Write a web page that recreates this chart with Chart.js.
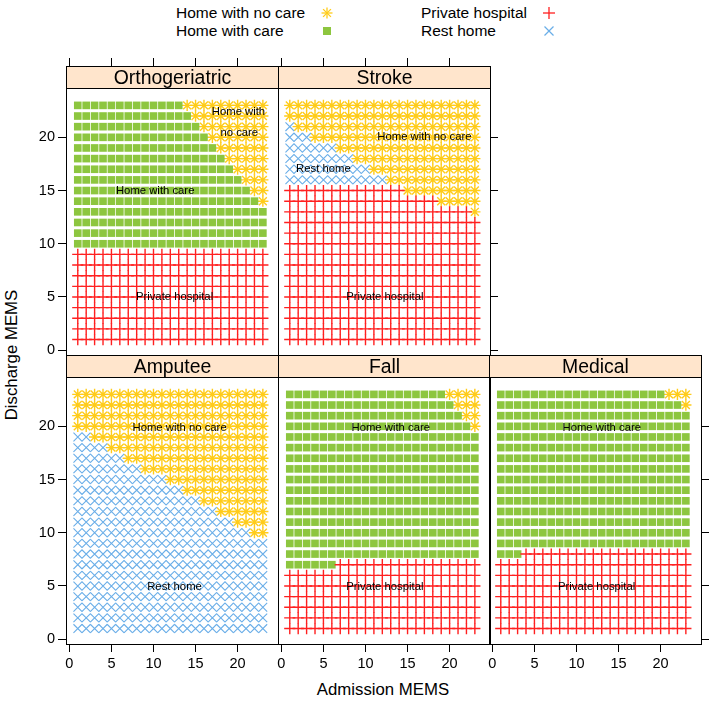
<!DOCTYPE html>
<html>
<head>
<meta charset="utf-8">
<title>Predicted discharge destination by MEMS</title>
<script src="https://cdn.jsdelivr.net/npm/chart.js@4.4.1/dist/chart.umd.min.js"></script>
<style>
  body { margin: 0; background: #fff; font-family: "Liberation Sans", Arial, sans-serif; }
  #page { position: relative; width: 709px; height: 709px; overflow: hidden; }
  #page canvas { position: absolute; }
  .lbl { position: absolute; white-space: nowrap; color: #000; line-height: 1; }
</style>
</head>
<body>
<div id="page">
  <div class="lbl" style="left:176px;top:5px;font-size:15.5px">Home with no care</div>
  <div class="lbl" style="left:176px;top:23px;font-size:15.5px">Home with care</div>
  <div class="lbl" style="left:421px;top:5px;font-size:15.5px">Private hospital</div>
  <div class="lbl" style="left:421px;top:23px;font-size:15.5px">Rest home</div>
  <svg style="position:absolute;left:0;top:0" width="709" height="45">
    <g stroke="#ffcc1a" stroke-width="1.3">
      <line x1="321.5" y1="13" x2="332.5" y2="13"/><line x1="327" y1="7.5" x2="327" y2="18.5"/>
      <line x1="323.1" y1="9.1" x2="330.9" y2="16.9"/><line x1="323.1" y1="16.9" x2="330.9" y2="9.1"/>
    </g>
    <rect x="323" y="27" width="8" height="8" fill="#8dc63f"/>
    <g stroke="#ff2020" stroke-width="1.3">
      <line x1="543" y1="13" x2="555" y2="13"/><line x1="549" y1="7" x2="549" y2="19"/>
    </g>
    <g stroke="#6aaee8" stroke-width="1.2">
      <line x1="544.5" y1="26.5" x2="553.5" y2="35.5"/><line x1="544.5" y1="35.5" x2="553.5" y2="26.5"/>
    </g>
  </svg>
  <div class="lbl" style="left:12px;top:355px;font-size:16.8px;transform:translate(-50%,-50%) rotate(-90deg)">Discharge MEMS</div>
  <div class="lbl" style="left:383px;top:690px;font-size:16.8px;transform:translate(-50%,-50%)">Admission MEMS</div>
</div>
<script>
// --- DATA ---
const destinations = ['Home with no care', 'Home with care', 'Private hospital', 'Rest home'];
const destCodes = ['N', 'C', 'P', 'R'];
const admissionMEMS = [1, 2, 3, 4, 5, 6, 7, 8, 9, 10, 11, 12, 13, 14, 15, 16, 17, 18, 19, 20, 21, 22, 23];
// rows of the grids below, top to bottom
const dischargeMEMS = [23, 22, 21, 20, 19, 18, 17, 16, 15, 14, 13, 12, 11, 10, 9, 8, 7, 6, 5, 4, 3, 2, 1];
const xTicks = [0, 5, 10, 15, 20];
const yTicks = [0, 5, 10, 15, 20];

// predicted destination along each row, as runs: code + number of admission MEMS cells
const orthogeriatric = [
    'C13 N10', 'C14 N9', 'C15 N8', 'C16 N7', 'C17 N6', 'C18 N5', 'C19 N4', 'C20 N3', 'C21 N2', 'C22 N1',
    'C23', 'C23', 'C23', 'C23',
    'P23', 'P23', 'P23', 'P23', 'P23', 'P23', 'P23', 'P23', 'P23'
];
const stroke = [
    'N23', 'N23', 'R1 N22', 'R3 N20', 'R6 N17', 'R8 N15', 'R10 N13', 'R12 N11',
    'P14 N9', 'P18 N5', 'P22 N1',
    'P23', 'P23', 'P23', 'P23', 'P23', 'P23', 'P23', 'P23', 'P23', 'P23', 'P23', 'P23'
];
const amputee = [
    'N23', 'N23', 'N23', 'N23',
    'R2 N21', 'R4 N19', 'R6 N17', 'R8 N15', 'R11 N12', 'R13 N10', 'R15 N8', 'R17 N6', 'R19 N4', 'R21 N2',
    'R23', 'R23', 'R23', 'R23', 'R23', 'R23', 'R23', 'R23', 'R23'
];
const fall = [
    'C19 N4', 'C20 N3', 'C21 N2', 'C22 N1',
    'C23', 'C23', 'C23', 'C23', 'C23', 'C23', 'C23', 'C23', 'C23', 'C23', 'C23', 'C23',
    'C6 P17',
    'P23', 'P23', 'P23', 'P23', 'P23', 'P23'
];
const medical = [
    'C20 N3', 'C22 N1',
    'C23', 'C23', 'C23', 'C23', 'C23', 'C23', 'C23', 'C23', 'C23', 'C23', 'C23', 'C23', 'C23',
    'C3 P20',
    'P23', 'P23', 'P23', 'P23', 'P23', 'P23', 'P23'
];

// region labels inside the panels: [text, admission, discharge]
const orthoLabels = [['Home with', 20.1, 22.4], ['no care', 20.2, 20.4], ['Home with care', 10.2, 15], ['Private hospital', 12.5, 5]];
const strokeLabels = [['Home with no care', 17, 20], ['Rest home', 5, 17], ['Private hospital', 12.3, 5]];
const amputeeLabels = [['Home with no care', 13.1, 19.9], ['Rest home', 12.5, 4.9]];
const fallLabels = [['Home with care', 13, 19.9], ['Private hospital', 12.3, 4.9]];
const medicalLabels = [['Home with care', 13, 19.9], ['Private hospital', 12.4, 4.9]];

// --- STYLE / LAYOUT ---
const FONT = '"Liberation Sans", Arial, sans-serif';
const markStyles = {
    N: { shape: 'star', radius: 5.6, color: '#ffcc1a', fill: '#ffcc1a', width: 1.4 },
    C: { shape: 'rect', radius: 5.4, color: '#8dc63f', fill: '#8dc63f', width: 0 },
    P: { shape: 'cross', radius: 5.6, color: '#ff2020', fill: '#ff2020', width: 1.4 },
    R: { shape: 'crossRot', radius: 6.1, color: '#6aaee8', fill: '#6aaee8', width: 1.1 }
};
const X_MIN = -0.4, X_MAX = 24.8;
const Y_MIN = -0.45, Y_MAX = 26.7;
const STRIP_H = 22;
const M = { left: 50, right: 20, top: 14, bottom: 40 };
const colLeft = [66, 278, 489], rowTop = [66, 355];
const PANEL_W = 212, PANEL_H = 289;

const panelSetup = [
    { name: 'Orthogeriatric', grid: orthogeriatric, labels: orthoLabels, col: 0, row: 0, left: true, bottom: false, top: true, right: false },
    { name: 'Stroke', grid: stroke, labels: strokeLabels, col: 1, row: 0, left: false, bottom: false, top: true, right: true },
    { name: 'Amputee', grid: amputee, labels: amputeeLabels, col: 0, row: 1, left: true, bottom: true, top: false, right: false },
    { name: 'Fall', grid: fall, labels: fallLabels, col: 1, row: 1, left: false, bottom: true, top: false, right: false },
    { name: 'Medical', grid: medical, labels: medicalLabels, col: 2, row: 1, left: false, bottom: true, top: false, right: true }
];

function decodeRow(runs) {
    let out = '';
    runs.split(' ').forEach(r => { out += r[0].repeat(parseInt(r.slice(1), 10)); });
    return out;
}

function pointsFor(grid, code) {
    const pts = [];
    grid.map(decodeRow).forEach((row, r) => {
        for (let i = 0; i < row.length; i++) {
            if (row[i] === code) pts.push({ x: admissionMEMS[i], y: dischargeMEMS[r] });
        }
    });
    return pts;
}

function makeAxis(position, min, max, values, marks, labels, size) {
    return {
        type: 'linear', position: position, min: min, max: max,
        afterBuildTicks: scale => { scale.ticks = values.map(v => ({ value: v })); },
        afterFit: scale => {
            if (position === 'left' || position === 'right') scale.width = size;
            else scale.height = size;
        },
        grid: { display: true, drawOnChartArea: false, drawTicks: marks, tickLength: 8, tickColor: '#000', tickWidth: 1 },
        border: { display: true, color: '#000', width: 1 },
        ticks: { display: labels, color: '#000', font: { family: FONT, size: 14.5 }, padding: 3, maxRotation: 0, autoSkip: false }
    };
}

// strip with panel name across top of panel
const stripPlugin = {
    id: 'strip',
    afterDatasetsDraw(chart, args, opts) {
        const { ctx, chartArea: a } = chart;
        ctx.save();
        ctx.fillStyle = '#ffe5cc';
        ctx.fillRect(a.left + 1, a.top + 1, a.width - 1, STRIP_H - 1);
        ctx.strokeStyle = '#000';
        ctx.lineWidth = 1;
        ctx.beginPath();
        ctx.moveTo(a.left, a.top + STRIP_H + 0.5);
        ctx.lineTo(a.right + 1, a.top + STRIP_H + 0.5);
        ctx.stroke();
        ctx.fillStyle = '#000';
        ctx.font = '19.4px ' + FONT;
        ctx.textAlign = 'center';
        ctx.textBaseline = 'middle';
        ctx.fillText(opts.title, (a.left + a.right) / 2 + 0.5, a.top + STRIP_H / 2 + 1.5);
        ctx.restore();
    }
};

const panelTextPlugin = {
    id: 'panelText',
    afterDatasetsDraw(chart, args, opts) {
        const { ctx, scales } = chart;
        ctx.save();
        ctx.font = '11.3px ' + FONT;
        ctx.fillStyle = '#000';
        ctx.textAlign = 'center';
        ctx.textBaseline = 'middle';
        opts.items.forEach(([t, lx, ly]) => ctx.fillText(t, scales.x.getPixelForValue(lx), scales.y.getPixelForValue(ly)));
        ctx.restore();
    }
};

const page = document.getElementById('page');

panelSetup.forEach(p => {
    const cv = document.createElement('canvas');
    cv.width = PANEL_W + M.left + M.right;
    cv.height = PANEL_H + M.top + M.bottom;
    cv.style.left = (colLeft[p.col] - M.left) + 'px';
    cv.style.top = (rowTop[p.row] - M.top) + 'px';
    page.appendChild(cv);

    const datasets = destCodes.map((code, k) => {
        const st = markStyles[code];
        return {
            label: destinations[k],
            data: pointsFor(p.grid, code),
            pointStyle: st.shape,
            pointRadius: st.radius,
            pointBorderColor: st.color,
            pointBackgroundColor: st.fill,
            pointBorderWidth: st.width,
            showLine: false,
            order: -k
        };
    });

    new Chart(cv, {
        type: 'scatter',
        data: { datasets: datasets },
        options: {
            responsive: false,
            animation: false,
            events: [],
            layout: { padding: 0 },
            plugins: {
                legend: { display: false },
                tooltip: { enabled: false },
                strip: { title: p.name },
                panelText: { items: p.labels }
            },
            scales: {
                x: makeAxis('bottom', X_MIN, X_MAX, xTicks, p.bottom, p.bottom, M.bottom),
                x2: makeAxis('top', X_MIN, X_MAX, xTicks, p.top, false, M.top),
                y: makeAxis('left', Y_MIN, Y_MAX, yTicks, p.left, p.left, M.left),
                y2: makeAxis('right', Y_MIN, Y_MAX, yTicks, p.right, false, M.right)
            }
        },
        plugins: [stripPlugin, panelTextPlugin]
    });
});
</script>
</body>
</html>
